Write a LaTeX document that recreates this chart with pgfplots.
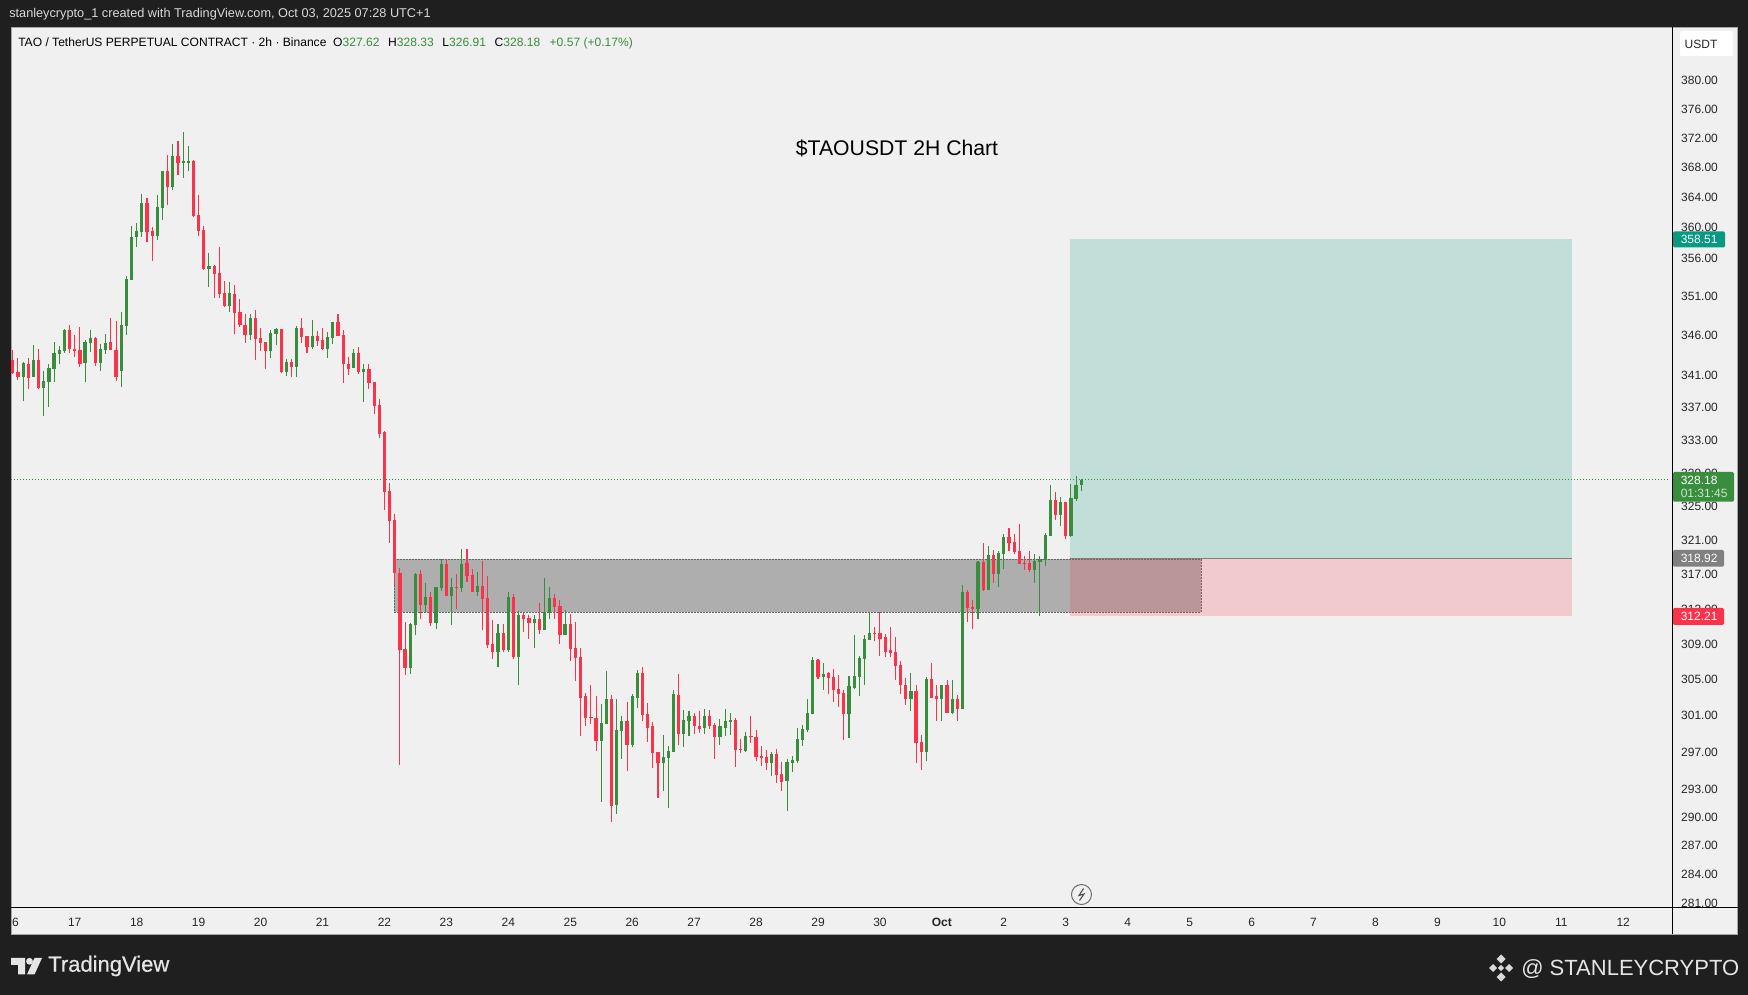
\documentclass[border=0pt]{standalone}
\usepackage{fontspec}
\setmainfont{Liberation Sans}
\newfontfamily\tvfont[FakeBold=0.5]{Liberation Sans}
\usepackage{pgfplots}
\usepackage{pgfplotstable}
\pgfplotsset{compat=1.18}
\definecolor{bgdark}{HTML}{1F1F1F}
\definecolor{pane}{HTML}{F0F0F0}
\definecolor{cgreen}{HTML}{388E3C}
\definecolor{cred}{HTML}{F9344A}
\definecolor{riskred}{HTML}{F23645}
\definecolor{teal}{HTML}{089981}
\definecolor{zone}{HTML}{AEAEAE}
\pgfplotstableread{
i h t b l
2 342.7 342.6 340.8 337.8
4 344.8 342.9 340.8 340.8
6 341.6 340.3 339.45 336.0
7 342.4 342.0 340.2 337.1
8 345.2 343.8 341.8 340.2
9 344.7 344.2 343.7 342.4
10 346.9 346.75 344.1 343.8
14 345.5 345.2 342.6 340.2
15 346.75 345.75 345.1 344.0
17 345.0 344.3 342.6 341.6
18 346.25 345.1 344.2 343.7
21 349.1 347.4 341.6 339.6
22 353.7 353.3 347.3 346.1
23 360.3 358.8 353.2 353.2
24 360.65 359.6 358.8 357.5
25 364.5 363.3 359.45 358.8
28 364.35 362.8 358.95 358.4
29 367.6 367.6 362.65 361.05
31 371.25 369.65 365.45 365.05
33 372.9 368.85 368.7 366.65
34 371.0 368.85 368.7 367.6
38 356.7 355.0 354.6 352.3
42 352.9 351.5 349.8 349.05
46 348.7 348.3 346.1 345.5
50 346.75 346.4 344.1 343.2
51 347.0 346.9 346.25 344.8
53 343.1 342.7 341.5 341.0
55 347.3 347.0 342.1 340.8
58 348.05 346.0 344.6 344.3
61 346.5 345.9 344.3 343.2
62 347.8 347.8 345.75 345.0
66 344.3 343.8 342.0 342.0
68 342.4 341.8 341.5 337.7
77 311.45 311.35 306.3 305.65
78 317.15 317.05 311.2 310.05
80 316.0 314.4 313.5 312.55
82 315.55 315.55 311.45 310.75
83 318.75 318.2 315.45 315.1
85 316.6 315.55 314.5 311.2
87 320.0 318.2 315.45 315.0
90 317.25 315.65 315.0 314.5
94 311.35 310.3 308.05 306.45
96 315.0 314.4 308.3 308.15
98 312.8 312.35 307.55 304.35
101 312.35 311.9 311.45 308.6
103 316.6 312.7 310.55 310.55
104 315.55 314.3 312.55 311.9
107 312.9 311.35 310.05 310.05
114 302.3 300.15 298.25 291.65
115 306.0 302.9 300.05 300.05
117 302.9 299.45 291.3 290.35
118 300.95 300.4 299.35 296.2
120 303.45 303.15 297.8 297.6
121 306.1 305.75 302.95 301.85
126 298.9 296.5 295.75 292.75
127 297.7 297.15 296.4 291.0
128 303.8 303.35 297.05 297.05
130 301.6 300.5 299.0 297.6
131 301.5 300.95 300.4 298.8
134 301.7 300.95 299.65 299.0
137 300.6 299.8 298.7 297.8
138 301.7 300.4 299.65 298.8
139 301.3 300.5 300.3 298.9
142 299.2 298.8 297.15 297.05
147 297.05 296.75 295.75 294.45
150 296.2 295.9 293.9 290.7
151 296.6 296.1 295.75 294.8
152 299.65 298.45 296.0 295.75
153 299.95 299.55 298.35 297.7
154 302.9 301.3 299.45 299.2
155 307.55 307.2 301.15 301.15
157 306.85 305.65 305.35 303.9
162 305.45 304.25 301.15 298.55
163 310.05 305.45 304.1 304.0
164 307.7 307.45 305.35 303.15
165 310.05 309.6 307.3 304.45
166 312.65 310.3 309.5 309.5
174 305.75 303.7 302.8 301.5
177 305.35 305.1 296.95 296.0
180 304.45 304.35 302.8 300.4
182 305.0 302.9 301.3 301.15
184 315.75 315.0 301.7 301.7
187 318.6 318.45 313.0 311.9
189 320.3 319.3 315.2 315.2
191 319.75 319.5 317.05 315.55
192 321.75 321.4 319.4 317.6
198 319.4 318.6 317.5 316.0
199 319.15 318.8 318.45 312.2
200 321.85 321.6 318.7 318.0
201 327.6 325.8 321.5 321.5
203 326.15 325.55 324.0 322.65
205 327.7 326.05 321.5 321.4
206 328.7 327.6 325.9 325.7
207 328.33 328.18 327.62 326.91
}\greentable
\pgfplotstableread{
i h t b l
0 344.2 343.0 341.3 341.2
1 343.2 341.5 340.8 340.45
3 343.2 342.5 340.7 339.3
5 344.4 342.9 339.45 339.3
11 347.4 346.75 344.3 343.8
12 346.1 344.4 344.1 343.3
13 347.15 344.2 342.5 342.1
16 345.9 345.75 342.6 342.2
19 348.3 345.2 344.2 344.2
20 347.9 344.2 340.8 340.3
26 364.0 363.3 359.45 358.15
27 360.15 359.6 358.95 355.65
30 369.8 367.6 365.45 363.05
32 371.65 369.65 368.7 367.1
35 369.1 368.85 361.6 361.45
36 364.35 361.7 359.6 358.95
37 360.3 359.75 354.6 354.4
39 355.15 355.0 354.0 350.85
40 357.5 354.1 351.4 350.85
41 353.05 351.5 349.8 349.7
43 352.55 351.4 348.95 346.25
44 350.7 349.05 347.4 347.15
45 348.7 347.4 346.1 345.1
47 349.3 348.3 345.6 343.0
48 347.0 345.75 345.1 344.1
49 345.2 345.2 344.1 341.8
52 346.9 346.9 341.5 341.35
54 343.1 342.7 342.1 340.8
56 348.3 347.0 345.9 345.1
57 346.0 346.0 344.6 343.8
59 346.6 346.0 345.35 344.7
60 347.0 345.5 344.3 344.2
63 348.7 347.8 346.0 346.0
64 346.75 346.1 342.4 340.1
65 343.3 342.5 341.8 341.1
67 344.6 343.8 341.5 341.2
69 342.5 341.8 340.1 339.3
70 340.2 340.2 337.2 336.25
71 338.1 337.3 333.75 333.25
72 334.2 333.95 326.75 324.6
73 327.85 326.9 323.3 320.7
74 324.1 323.4 317.15 315.75
75 317.75 317.15 308.3 295.65
76 311.55 308.4 306.3 305.55
79 317.5 317.05 313.5 311.8
81 315.0 314.4 311.45 311.1
84 318.75 318.2 314.5 314.5
86 317.05 315.55 315.45 313.0
88 320.0 318.35 316.8 316.1
89 317.6 316.95 315.0 315.0
91 318.6 315.65 314.15 310.55
92 316.8 314.3 308.85 308.6
93 311.7 308.95 308.15 307.3
95 311.35 310.3 308.3 308.15
97 314.75 314.4 307.55 307.3
99 312.7 312.35 311.8 310.4
100 312.35 312.0 311.45 309.6
102 313.7 311.9 310.55 310.2
105 314.75 314.3 313.25 311.9
106 314.05 313.35 310.05 308.95
108 312.45 311.35 308.5 307.1
109 311.55 308.6 307.45 304.8
110 308.6 307.55 302.95 298.8
111 303.55 303.15 300.7 299.85
112 304.45 300.85 300.7 300.05
113 303.15 300.7 298.25 297.15
116 303.25 302.9 291.2 289.5
119 302.55 300.4 297.8 294.9
122 306.45 305.75 301.05 300.4
123 302.45 301.15 299.65 298.15
124 300.3 299.8 296.85 295.3
125 297.05 296.95 295.75 292.05
129 305.65 303.25 299.0 297.8
132 301.3 300.95 299.8 299.0
133 301.5 299.85 299.55 299.1
135 301.6 300.95 299.85 299.55
136 300.15 299.95 298.7 296.2
140 300.7 300.5 297.25 295.4
141 298.45 297.35 297.25 296.85
143 300.95 298.8 298.7 298.0
144 299.45 298.7 296.5 296.0
145 297.7 296.6 296.4 295.5
146 297.25 296.5 295.75 295.1
148 297.35 296.75 294.55 293.7
149 295.9 294.65 293.8 292.75
156 307.3 307.2 305.35 305.1
158 305.9 305.75 305.2 303.35
159 306.2 305.35 303.9 302.55
160 305.55 304.0 303.45 301.95
161 303.9 303.55 301.15 298.35
167 310.9 310.3 310.2 309.3
168 312.65 310.3 309.6 307.7
169 310.2 309.75 308.15 307.55
170 311.0 308.3 307.95 307.55
171 309.75 308.05 306.55 304.9
172 307.1 306.65 304.35 303.45
173 305.2 304.45 302.8 302.2
175 304.35 303.7 298.0 295.75
176 298.9 298.15 296.95 295.1
178 306.85 305.1 302.95 302.95
179 304.35 303.15 302.8 300.4
181 304.9 304.35 301.3 301.3
183 303.25 302.9 301.7 300.4
185 315.2 315.0 313.15 311.55
186 314.05 313.25 313.0 310.65
188 320.7 318.45 315.2 315.1
190 319.85 319.3 317.05 316.0
193 322.45 321.4 320.7 319.75
194 321.75 320.8 319.6 319.4
195 322.9 319.75 318.2 318.2
196 319.15 318.35 318.2 317.5
197 319.75 318.35 317.5 317.25
202 326.75 325.8 324.0 323.4
204 325.55 325.55 321.5 321.15
}\redtable
\begin{document}
\begin{tikzpicture}
\path[use as bounding box] (0,0) rectangle (1311pt,746.25pt);
\fill[bgdark] (0,0) rectangle (1311pt,746.25pt);
\begin{scope}[x=0.75pt,y=-0.75pt,yshift=746.25pt]
\fill[pane] (11,27) rectangle (1737.5,934);
\draw[gray!70,line width=0.6pt] (11,27) rectangle (1737.5,934);
\end{scope}
\begin{axis}[
  at={(8.25pt,65.775pt)},anchor=south west,
  width=1246.3pt,height=660.2pt,scale only axis,
  ymode=log,ymin=280.58,ymax=387.58,
  xmin=-0.349,xmax=321.6,
  axis x line*=bottom,axis y line*=right,
  axis line style={black,line width=0.75pt,-},
  tick style={draw=none},major tick length=0pt,
  log ticks with fixed point,
  ytick={380,376,372,368,364,360,356,351,346,341,337,333,329,325,321,317,313,309,305,301,297,293,290,287,284,281},
  yticklabels={380.00,376.00,372.00,368.00,364.00,360.00,356.00,351.00,346.00,341.00,337.00,333.00,329.00,325.00,321.00,317.00,313.00,309.00,305.00,301.00,297.00,293.00,290.00,287.00,284.00,281.00},
  xtick={0.5,12,24,36,48,60,72,84,96,108,120,132,144,156,168,180,192,204,216,228,240,252,264,276,288,300,312},
  xticklabels={6,17,18,19,20,21,22,23,24,25,26,27,28,29,30,\textbf{Oct},2,3,4,5,6,7,8,9,10,11,12},
  xticklabel style={font=\fontsize{9}{11}\selectfont,text=black!85,anchor=center,yshift=-11.2pt},
  yticklabel style={font=\fontsize{9}{11}\selectfont,text=black!85,anchor=west,xshift=2.8pt},
  candle/.style={draw=none,mark=none,mark size=0pt,mark options={draw=none,fill=none},forget plot},
]
\addplot[draw=none,fill=zone,forget plot] coordinates {(73.92,312.65)(230.2,312.65)(230.2,318.8)(73.92,318.8)} -- cycle;
\addplot[draw=black!60,dash pattern=on 1.5pt off 0.75pt,line width=0.75pt,forget plot] coordinates {(73.92,312.65)(230.2,312.65)(230.2,318.8)(73.92,318.8)(73.92,312.65)};
\addplot[draw=none,fill=teal,fill opacity=0.2,forget plot] coordinates {(204.84,318.92)(302.05,318.92)(302.05,358.51)(204.84,358.51)} -- cycle;
\addplot[draw=none,fill=riskred,fill opacity=0.2,forget plot] coordinates {(204.84,312.21)(302.05,312.21)(302.05,318.92)(204.84,318.92)} -- cycle;
\addplot[draw=black!50,line width=0.75pt,forget plot] coordinates {(204.84,318.92)(302.05,318.92)};
\addplot[draw=cgreen,dash pattern=on 0.9pt off 1.35pt,line width=0.9pt,forget plot] coordinates {(-0.349,328.18)(321.0,328.18)};
% wicks
\addplot[candle,error bars/.cd,y dir=plus,y explicit,error mark=none,error bar style={draw=cgreen,solid,line width=0.8pt}]
  table[x=i,y=l,y error plus expr=\thisrow{h}-\thisrow{l},y error minus expr=0] {\greentable};
\addplot[candle,error bars/.cd,y dir=plus,y explicit,error mark=none,error bar style={draw=cred,solid,line width=0.8pt}]
  table[x=i,y=l,y error plus expr=\thisrow{h}-\thisrow{l},y error minus expr=0] {\redtable};
% bodies
\addplot[candle,error bars/.cd,y dir=plus,y explicit,error mark=none,error bar style={draw=cgreen,solid,line width=2.4pt}]
  table[x=i,y=b,y error plus expr=\thisrow{t}-\thisrow{b},y error minus expr=0] {\greentable};
\addplot[candle,error bars/.cd,y dir=plus,y explicit,error mark=none,error bar style={draw=cred,solid,line width=2.4pt}]
  table[x=i,y=b,y error plus expr=\thisrow{t}-\thisrow{b},y error minus expr=0] {\redtable};
\end{axis}
\begin{scope}[x=0.75pt,y=-0.75pt,yshift=746.25pt]
% hide the part of the 281 label below the line
\fill[pane] (1673.2,907.7) rectangle (1737,933.5);
\draw[black,line width=0.75pt] (1672.7,907.3) -- (1737.5,907.3);
\draw[black,line width=0.75pt] (1672.7,907.3) -- (1672.7,934);
% header text
\node[anchor=west,text=white!85!black,font=\fontsize{9.55}{11}\selectfont,inner sep=0] at (9,14) {stanleycrypto\_1 created with TradingView.com, Oct 03, 2025 07:28 UTC+1};
\node[anchor=west,text=black,font=\fontsize{9.05}{11}\selectfont,inner sep=0] at (18,43) {TAO / TetherUS PERPETUAL CONTRACT · 2h · Binance\ \ O\textcolor{cgreen}{327.62}\hspace{6.5pt}H\textcolor{cgreen}{328.33}\hspace{6.5pt}L\textcolor{cgreen}{326.91}\hspace{6.5pt}C\textcolor{cgreen}{328.18}\hspace{7pt}\textcolor{cgreen}{+0.57 (+0.17\%)}};
\node[text=black,font=\fontsize{15.9}{20}\selectfont,inner sep=0] at (897,148.5) {\$TAOUSDT 2H Chart};
% price labels
\fill[white,rounded corners=1.5pt] (1680,31) rectangle (1733,56);
\node[font=\fontsize{9}{11}\selectfont,text=black!85,inner sep=0] at (1701,44) {USDT};
\fill[teal,rounded corners=1pt] (1673,231.5) rectangle (1725,247.5);
\node[anchor=west,font=\fontsize{9}{11}\selectfont,text=white,inner sep=0] at (1680.5,239.5) {358.51};
\fill[cgreen,rounded corners=1pt] (1673,472) rectangle (1734,501.7);
\node[anchor=west,font=\fontsize{9}{11}\selectfont,text=white,inner sep=0] at (1680.5,480) {328.18};
\node[anchor=west,font=\fontsize{9}{11}\selectfont,text=white!75!cgreen,inner sep=0] at (1680.5,493) {01:31:45};
\fill[black!50,rounded corners=1pt] (1673,550) rectangle (1724,566.7);
\node[anchor=west,font=\fontsize{9}{11}\selectfont,text=white,inner sep=0] at (1680.5,558.3) {318.92};
\fill[cred,rounded corners=1pt] (1673,608) rectangle (1724,625);
\node[anchor=west,font=\fontsize{9}{11}\selectfont,text=white,inner sep=0] at (1680.5,616.5) {312.21};
% lightning badge
\draw[black!60,line width=0.7pt] (1081.5,894.5) circle (10);
\draw[black!70,line width=0.8pt] (1083.5,888.5) -- (1079,895.5) -- (1084,894) -- (1079.5,900.5);
% footer
\fill[white!90!black] (11,958) -- (25,958) -- (25,974.5) -- (18,974.5) -- (18,965) -- (11,965) -- cycle;
\fill[white!90!black] (29.5,961.3) circle (3.4);
\fill[white!90!black] (27,974.5) -- (34.5,958) -- (42,958) -- (34.5,974.5) -- cycle;
\node[anchor=west,text=white!90!black,font=\tvfont\fontsize{16.5}{18}\selectfont,inner sep=0] at (48,966) {TradingView};
\foreach \cx/\cy/\r in {1501/959/4.5,1493/968/4,1509/968/4,1501/968/3.2,1501/977/4.5}{
  \fill[white!85!black] (\cx-\r,\cy) -- (\cx,\cy-\r) -- (\cx+\r,\cy) -- (\cx,\cy+\r) -- cycle;
}
\node[anchor=west,text=white!90!black,font=\fontsize{16.5}{20}\selectfont,inner sep=0] at (1521,969) {@ STANLEYCRYPTO};
\end{scope}
\end{tikzpicture}
\end{document}
